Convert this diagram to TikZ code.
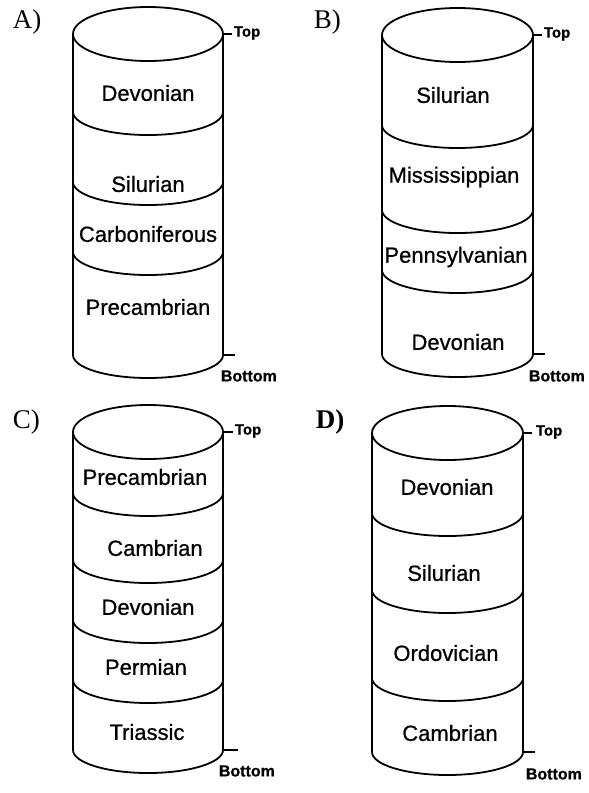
\documentclass[tikz,border=0pt]{standalone}
\usepackage{fontspec}
\setmainfont{Liberation Serif}
\newfontfamily\labfont[FakeBold=0.7]{Liberation Sans}
\newcommand\cylbody[6]{% #1 xl, #2 xr, #3 top centre y, #4 bottom y, #5 top ry, #6 arc ry
  \pgfmathsetmacro\rxx{(#2-#1)/2}%
  \draw (#1,#3) -- (#1,#4) arc[start angle=180,end angle=360,x radius=\rxx pt,y radius=#6pt] -- (#2,#3);
  \draw ({(#1+#2)/2},#3) ellipse[x radius=\rxx pt,y radius=#5pt];
}
\newcommand\cylline[4]{% #1 xl, #2 xr, #3 y, #4 ry
  \pgfmathsetmacro\rxx{(#2-#1)/2}%
  \draw (#1,#3) arc[start angle=180,end angle=360,x radius=\rxx pt,y radius=#4pt];
}
\begin{document}
\begin{tikzpicture}[x=1pt,y=-1pt,line width=1.8pt,line join=round,
  layer/.style={font=\labfont\fontsize{22}{22}\selectfont,inner sep=0pt},
  toptag/.style={font=\labfont\bfseries\fontsize{15}{15}\selectfont,inner sep=0pt,anchor=west},
  bottag/.style={font=\labfont\bfseries\fontsize{16}{16}\selectfont,inner sep=0pt,anchor=west},
  panel/.style={font=\fontsize{27}{27}\selectfont,inner sep=0pt,anchor=base west}]
\useasboundingbox (0,0) rectangle (589,793);

% ---------- A ----------
\cylbody{73}{223}{34}{355}{27}{23}
\cylline{73}{223}{112}{23}
\cylline{73}{223}{182}{23}
\cylline{73}{223}{252}{23}
\node[panel] (pA) at (12,28) {A)};
\node[layer] (a1) at (148,93) {Devonian};
\node[layer] (a2) at (148,184) {Silurian};
\node[layer] (a3) at (148,234) {Carboniferous};
\node[layer] (a4) at (148,307) {Precambrian};
\coordinate (aT) at (223,34);
\coordinate (aTe) at (232,34);
\draw[line width=1.2pt] (aT) -- (aTe);
\node[toptag] (aTop) at (233,33) {Top};
\coordinate (aB) at (223,355);
\coordinate (aBe) at (235,355);
\draw[line width=1.2pt] (aB) -- (aBe);
\node[bottag] (aBot) at (220,376) {Bottom};

% ---------- B ----------
\cylbody{382}{533}{35}{354}{27}{23}
\cylline{382}{533}{125}{23}
\cylline{382}{533}{210}{23}
\cylline{382}{533}{270}{23}
\node[panel] (pB) at (313,28) {B)};
\node[layer] (b1) at (453,95) {Silurian};
\node[layer] (b2) at (454,177) {Mississippian};
\node[layer] (b3) at (456,257) {Pennsylvanian};
\node[layer] (b4) at (458,342) {Devonian};
\coordinate (bT) at (533,35);
\coordinate (bTe) at (542,35);
\draw[line width=1.2pt] (bT) -- (bTe);
\node[toptag] (bTop) at (543,34) {Top};
\coordinate (bB) at (533,354);
\coordinate (bBe) at (545,354);
\draw[line width=1.2pt] (bB) -- (bBe);
\node[bottag] (bBot) at (528,376) {Bottom};

% ---------- C ----------
\cylbody{73}{223}{432}{750}{27}{23}
\cylline{73}{223}{493}{23}
\cylline{73}{223}{560}{23}
\cylline{73}{223}{620}{23}
\cylline{73}{223}{680}{23}
\node[panel] (pC) at (12,428) {C)};
\node[layer] (c1) at (145,477) {Precambrian};
\node[layer] (c2) at (155,548) {Cambrian};
\node[layer] (c3) at (148,607) {Devonian};
\node[layer] (c4) at (146,667) {Permian};
\node[layer] (c5) at (147,732) {Triassic};
\coordinate (cT) at (223,432);
\coordinate (cTe) at (233,432);
\draw[line width=1.2pt] (cT) -- (cTe);
\node[toptag] (cTop) at (234,431) {Top};
\coordinate (cB) at (223,750);
\coordinate (cBe) at (238,750);
\draw[line width=1.2pt] (cB) -- (cBe);
\node[bottag] (cBot) at (218,771) {Bottom};

% ---------- D ----------
\cylbody{372}{523}{433}{752}{27}{23}
\cylline{372}{523}{513}{23}
\cylline{372}{523}{590}{23}
\cylline{372}{523}{678}{23}
\node[panel,font=\bfseries\fontsize{27}{27}\selectfont] (pD) at (315,428) {D)};
\node[layer] (d1) at (447,487) {Devonian};
\node[layer] (d2) at (444,573) {Silurian};
\node[layer] (d3) at (446,653) {Ordovician};
\node[layer] (d4) at (450,733) {Cambrian};
\coordinate (dT) at (523,433);
\coordinate (dTe) at (532,433);
\draw[line width=1.2pt] (dT) -- (dTe);
\node[toptag] (dTop) at (535,432) {Top};
\coordinate (dB) at (523,752);
\coordinate (dBe) at (535,752);
\draw[line width=1.2pt] (dB) -- (dBe);
\node[bottag] (dBot) at (525,774) {Bottom};
\end{tikzpicture}
\end{document}
